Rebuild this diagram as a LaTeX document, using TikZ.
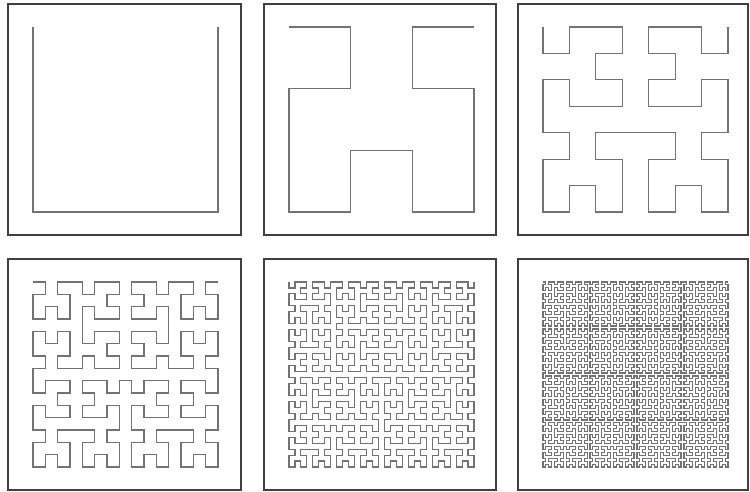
\documentclass[tikz,border=0pt]{standalone}

% turtle state for the Hilbert curve
\newdimen\hilx \newdimen\hily \newdimen\hilseg
\newcount\hildx \newcount\hildy \newcount\hiltmp
\def\hilleft{\hiltmp=\hildx \hildx=-\hildy \hildy=\hiltmp}
\def\hilright{\hiltmp=\hildx \hildx=\hildy \hildy=-\hiltmp}
\def\hilfwd{\advance\hilx by \hildx\hilseg \advance\hily by \hildy\hilseg \pgfpathlineto{\pgfqpoint{\hilx}{\hily}}}
\def\hilA#1{\ifnum#1>0 \hilleft\hilB{\numexpr#1-1\relax}\hilfwd\hilright\hilA{\numexpr#1-1\relax}\hilfwd\hilA{\numexpr#1-1\relax}\hilright\hilfwd\hilB{\numexpr#1-1\relax}\hilleft\fi}
\def\hilB#1{\ifnum#1>0 \hilright\hilA{\numexpr#1-1\relax}\hilfwd\hilleft\hilB{\numexpr#1-1\relax}\hilfwd\hilB{\numexpr#1-1\relax}\hilleft\hilfwd\hilA{\numexpr#1-1\relax}\hilright\fi}

\begin{document}
\begin{tikzpicture}[x=1pt, y=1pt, frame/.style={draw=black!75, line width=1.8pt}, curve/.style={draw=black!55, line width=1.1pt, line join=miter}]
\useasboundingbox (0,0) rectangle (750,492);
% one frame per order, curve starts at the upper left
\foreach \n/\px/\py/\w in {1/8/4/233, 2/264/4/232, 3/518/4/230, 4/8/259/233, 5/264/259/232, 6/518/259/230} {
  \draw[frame] (\px,492-\py) rectangle ++(\w,-231);
  \begin{scope}[shift={(\px+25,492-\py-23)}]
    \draw[curve] (0,0) \pgfextra{\pgfmathsetlength\hilseg{185/(2^\n-1)}\hilx=0pt \hily=0pt \hildx=1 \hildy=0 \hilB{\n}};
  \end{scope}
}
\end{tikzpicture}
\end{document}
